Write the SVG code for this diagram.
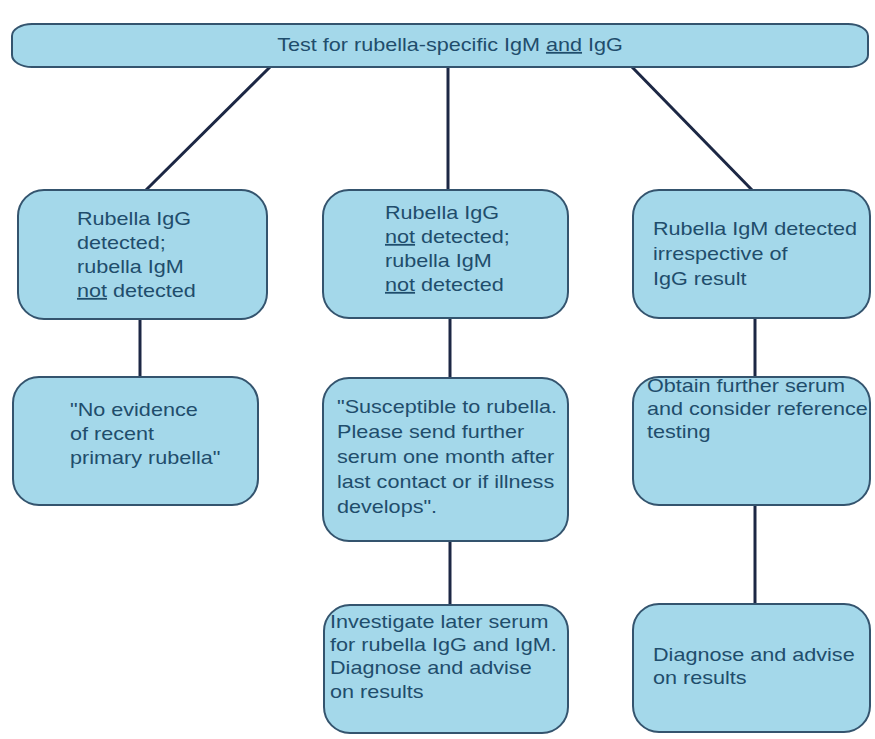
<svg xmlns="http://www.w3.org/2000/svg" width="875" height="739" viewBox="0 0 875 739">
<style>
.box{fill:#a4d8ea;stroke:#34546e;stroke-width:2}
.t{font-family:"Liberation Sans",Arial,sans-serif;font-size:18px;fill:#1f4d6c}
.u{text-decoration:underline}
.c{stroke:#1c2744;stroke-width:3;fill:none}
</style>
<rect width="875" height="739" fill="#ffffff"/>
<g id="connectors">
<line class="c" x1="270" y1="67" x2="145" y2="191"/>
<line class="c" x1="448" y1="67" x2="448" y2="191"/>
<line class="c" x1="632" y1="67" x2="753" y2="191"/>
<line class="c" x1="140" y1="318" x2="140" y2="378"/>
<line class="c" x1="450" y1="318" x2="450" y2="378"/>
<line class="c" x1="755" y1="318" x2="755" y2="378"/>
<line class="c" x1="450" y1="541" x2="450" y2="605"/>
<line class="c" x1="755" y1="505" x2="755" y2="605"/>
</g>
<g id="root">
<rect class="box" x="12" y="24" width="856" height="43" rx="20" ry="12"/>
<text class="t" text-anchor="middle" transform="translate(450,0) scale(1.2,1)"><tspan x="0" y="51">Test for rubella-specific IgM <tspan class="u">and</tspan> IgG</tspan></text>
</g>
<g id="n1">
<rect class="box" x="18" y="190" width="249" height="129" rx="26"/>
<text class="t" transform="translate(77,0) scale(1.2,1)"><tspan x="0" y="225">Rubella IgG</tspan><tspan x="0" y="249">detected;</tspan><tspan x="0" y="273">rubella IgM</tspan><tspan x="0" y="297"><tspan class="u">not</tspan> detected</tspan></text>
</g>
<g id="n2">
<rect class="box" x="323" y="190" width="245" height="128" rx="26"/>
<text class="t" transform="translate(385,0) scale(1.2,1)"><tspan x="0" y="219">Rubella IgG</tspan><tspan x="0" y="243"><tspan class="u">not</tspan> detected;</tspan><tspan x="0" y="267">rubella IgM</tspan><tspan x="0" y="291"><tspan class="u">not</tspan> detected</tspan></text>
</g>
<g id="n3">
<rect class="box" x="633" y="190" width="237" height="128" rx="26"/>
<text class="t" transform="translate(653,0) scale(1.2,1)"><tspan x="0" y="235">Rubella IgM detected</tspan><tspan x="0" y="260">irrespective of</tspan><tspan x="0" y="285">IgG result</tspan></text>
</g>
<g id="n4">
<rect class="box" x="13" y="377" width="245" height="128" rx="26"/>
<text class="t" transform="translate(70,0) scale(1.2,1)"><tspan x="0" y="416">"No evidence</tspan><tspan x="0" y="440">of recent</tspan><tspan x="0" y="464">primary rubella"</tspan></text>
</g>
<g id="n5">
<rect class="box" x="323" y="378" width="245" height="163" rx="26"/>
<text class="t" transform="translate(337,0) scale(1.2,1)"><tspan x="0" y="413">"Susceptible to rubella.</tspan><tspan x="0" y="438">Please send further</tspan><tspan x="0" y="463">serum one month after</tspan><tspan x="0" y="488">last contact or if illness</tspan><tspan x="0" y="513">develops".</tspan></text>
</g>
<g id="n6">
<rect class="box" x="633" y="377" width="237" height="128" rx="26"/>
<text class="t" transform="translate(647,0) scale(1.2,1)"><tspan x="0" y="392">Obtain further serum</tspan><tspan x="0" y="415">and consider reference</tspan><tspan x="0" y="438">testing</tspan></text>
</g>
<g id="n7">
<rect class="box" x="324" y="605" width="244" height="128" rx="26"/>
<text class="t" transform="translate(330,0) scale(1.2,1)"><tspan x="0" y="628">Investigate later serum</tspan><tspan x="0" y="651">for rubella IgG and IgM.</tspan><tspan x="0" y="674">Diagnose and advise</tspan><tspan x="0" y="698">on results</tspan></text>
</g>
<g id="n8">
<rect class="box" x="633" y="604" width="237" height="128" rx="26"/>
<text class="t" transform="translate(653,0) scale(1.2,1)"><tspan x="0" y="661">Diagnose and advise</tspan><tspan x="0" y="684">on results</tspan></text>
</g>
</svg>
